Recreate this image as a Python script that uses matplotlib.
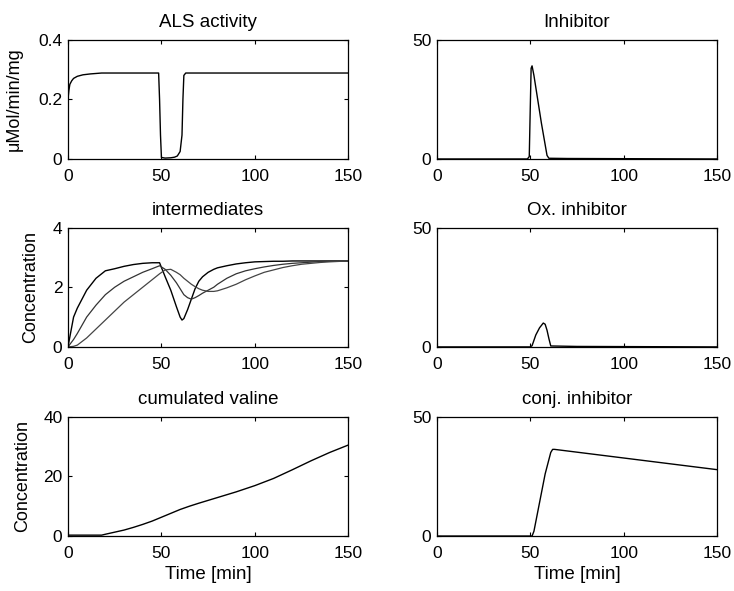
import matplotlib
matplotlib.use("Agg")
import matplotlib.pyplot as plt
import numpy as np

plt.rcParams['font.family'] = ['Liberation Sans', 'DejaVu Sans']

# ALS activity
als_t = [0, 0.5, 1, 2, 3, 5, 8, 12, 18, 30, 48.5, 49, 49.5, 50, 52, 55, 57, 58.5, 60, 61, 61.5, 62, 63, 150]
als_v = [0.2, 0.23, 0.25, 0.262, 0.27, 0.277, 0.282, 0.285, 0.288, 0.288, 0.288, 0.2, 0.08, 0.005, 0.003, 0.004, 0.006, 0.01, 0.025, 0.08, 0.2, 0.28, 0.288, 0.288]

# inhibitor
inh_t = [0, 48.5, 49.5, 50, 50.5, 51, 52, 54, 56, 58, 59, 60, 70, 150]
inh_v = [0, 0, 1, 20, 38, 39, 35, 25, 15, 6, 1.5, 0.3, 0.2, 0]

# intermediates (three species)
mid_t = [0, 3, 5, 10, 15, 20, 25, 30, 35, 40, 45, 49, 52, 55, 58, 60, 61, 62, 64, 66, 68, 70, 72, 75, 78, 80, 85, 90, 95, 100, 105, 110, 115, 120, 125, 130, 135, 140, 150]
mid_a = [0, 1.0, 1.3, 1.9, 2.3, 2.55, 2.62, 2.7, 2.76, 2.8, 2.82, 2.82, 2.35, 1.9, 1.35, 1.0, 0.9, 0.95, 1.25, 1.6, 1.95, 2.2, 2.35, 2.5, 2.6, 2.65, 2.72, 2.78, 2.82, 2.85, 2.86, 2.87, 2.87, 2.88, 2.88, 2.88, 2.88, 2.88, 2.88]
mid_b = [0, 0.25, 0.45, 1.0, 1.4, 1.75, 2.0, 2.2, 2.35, 2.5, 2.62, 2.72, 2.6, 2.4, 2.15, 1.95, 1.85, 1.75, 1.65, 1.6, 1.65, 1.72, 1.8, 1.9, 2.0, 2.1, 2.3, 2.45, 2.55, 2.62, 2.68, 2.73, 2.77, 2.8, 2.82, 2.84, 2.86, 2.87, 2.88]
mid_c = [0, 0.02, 0.06, 0.3, 0.6, 0.9, 1.2, 1.5, 1.75, 2.0, 2.25, 2.45, 2.58, 2.6, 2.5, 2.42, 2.36, 2.3, 2.2, 2.1, 2.02, 1.95, 1.9, 1.86, 1.86, 1.88, 1.98, 2.1, 2.25, 2.38, 2.5, 2.58, 2.66, 2.72, 2.77, 2.8, 2.83, 2.85, 2.88]

# oxidised inhibitor
ox_t = [0, 50, 51, 53, 55, 57, 58, 59, 60, 61, 75, 150]
ox_v = [0, 0, 0.5, 5, 8, 10, 9.5, 7, 3.5, 0.4, 0.2, 0]

# cumulated valine
val_t = [0, 18, 20, 25, 30, 35, 40, 45, 50, 55, 60, 65, 70, 80, 90, 100, 110, 120, 130, 140, 150]
val_v = [0.3, 0.3, 0.6, 1.3, 2.0, 2.9, 3.9, 5.0, 6.3, 7.6, 8.9, 10.0, 11.0, 12.9, 14.8, 16.9, 19.3, 22.2, 25.2, 28.0, 30.5]

# conjugated inhibitor
conj_t = [0, 51, 52, 55, 58, 61, 62, 63, 150]
conj_v = [0, 0, 2, 14, 26, 35, 36.3, 36.3, 27.8]

fig = plt.figure(figsize=(7.34, 5.91), dpi=100)

cols = [0.0926, 0.595]
rows = [0.731, 0.413, 0.093]
w = 0.382
h = 0.202


def setup(ax, title, ylim, yticks, ylabels=None):
    ax.set_xlim(0, 150)
    ax.set_ylim(*ylim)
    ax.set_xticks([0, 50, 100, 150])
    ax.set_yticks(yticks)
    if ylabels is not None:
        ax.set_yticklabels(ylabels)
    ax.tick_params(direction='in', top=True, right=True, length=3, width=0.8,
                   labelsize=12.5)
    ax.tick_params(axis='x', pad=7)
    ax.tick_params(axis='y', pad=4)
    ax.set_title(title, fontsize=13.5, pad=9)
    for s in ax.spines.values():
        s.set_linewidth(0.9)


ax1 = fig.add_axes([cols[0], rows[0], w, h])
ax1.plot(als_t, als_v, color='black', lw=1)
setup(ax1, 'ALS activity', (0, 0.4), [0, 0.2, 0.4], ['0', '0.2', '0.4'])
ax1.set_ylabel('μMol/min/mg', fontsize=13, labelpad=11)

ax2 = fig.add_axes([cols[1], rows[0], w, h])
ax2.plot(inh_t, inh_v, color='black', lw=1)
setup(ax2, 'Inhibitor', (0, 50), [0, 50])

ax3 = fig.add_axes([cols[0], rows[1], w, h])
ax3.plot(mid_t, mid_a, color='black', lw=1)
ax3.plot(mid_t, mid_b, color='#333333', lw=0.9)
ax3.plot(mid_t, mid_c, color='#444444', lw=0.9)
setup(ax3, 'intermediates', (0, 4), [0, 2, 4])
ax3.set_ylabel('Concentration', fontsize=13, labelpad=10)

ax4 = fig.add_axes([cols[1], rows[1], w, h])
ax4.plot(ox_t, ox_v, color='black', lw=1)
setup(ax4, 'Ox. inhibitor', (0, 50), [0, 50])

ax5 = fig.add_axes([cols[0], rows[2], w, h])
ax5.plot(val_t, val_v, color='black', lw=1)
setup(ax5, 'cumulated valine', (0, 40), [0, 20, 40])
ax5.set_ylabel('Concentration', fontsize=13, labelpad=9)
ax5.set_xlabel('Time [min]', fontsize=13.5, labelpad=4)

ax6 = fig.add_axes([cols[1], rows[2], w, h])
ax6.plot(conj_t, conj_v, color='black', lw=1)
setup(ax6, 'conj. inhibitor', (0, 50), [0, 50])
ax6.set_xlabel('Time [min]', fontsize=13.5, labelpad=4)

fig.savefig('out.png', dpi=100)
